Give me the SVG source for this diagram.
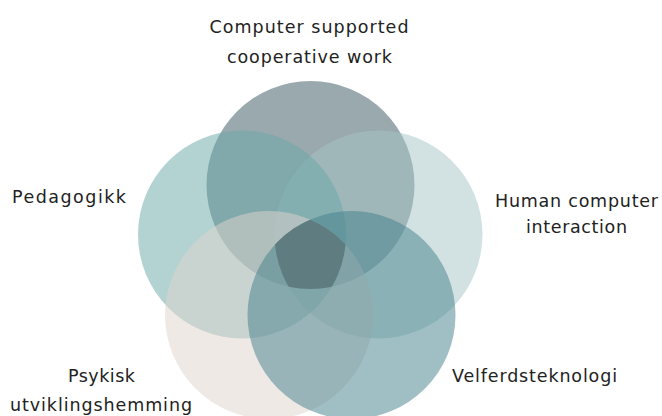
<svg xmlns="http://www.w3.org/2000/svg" width="662" height="416" viewBox="0 0 662 416">
<style>
.c{fill-opacity:.5}
.t{font-family:"DejaVu Sans","Open Sans",sans-serif;font-size:17.5px;font-weight:400;fill:#222}
</style>
<defs>
<clipPath id="cT"><circle cx="310.5" cy="185" r="104"/></clipPath>
<clipPath id="cL"><circle cx="242" cy="234.5" r="104"/></clipPath>
<clipPath id="cR"><circle cx="378.5" cy="234.5" r="104"/></clipPath>
<clipPath id="cBL"><circle cx="269" cy="315" r="104"/></clipPath>
</defs>
<rect width="662" height="416" fill="#fff"/>
<g id="cscw">
<circle class="c" cx="310.5" cy="185" r="104" fill="#35535d"/>
<text class="t" x="309" y="33" text-anchor="middle" textLength="199" lengthAdjust="spacing">Computer supported</text>
<text class="t" x="309.5" y="63" text-anchor="middle" textLength="165" lengthAdjust="spacing">cooperative work</text>
</g>
<g id="hci">
<circle class="c" cx="378.5" cy="234.5" r="104" fill="#a5c5c5"/>
<text class="t" x="576.5" y="207" text-anchor="middle" textLength="163" lengthAdjust="spacing">Human computer</text>
<text class="t" x="576.5" y="233" text-anchor="middle" textLength="101" lengthAdjust="spacing">interaction</text>
</g>
<g id="pedagogikk">
<circle class="c" cx="242" cy="234.5" r="104" fill="#67a7a7"/>
<text class="t" x="12" y="203" textLength="114" lengthAdjust="spacing">Pedagogikk</text>
</g>
<g id="psykisk">
<circle class="c" cx="269" cy="315" r="104" fill="#dfd3cd"/>
<text class="t" x="101.5" y="382" text-anchor="middle" textLength="67" lengthAdjust="spacing">Psykisk</text>
<text class="t" x="101" y="411" text-anchor="middle" textLength="182" lengthAdjust="spacing">utviklingshemming</text>
</g>
<g id="velferdsteknologi">
<circle class="c" cx="351.5" cy="315" r="104" fill="#417f89"/>
<text class="t" x="452" y="382" textLength="165" lengthAdjust="spacing">Velferdsteknologi</text>
</g>
<g id="center">
<g clip-path="url(#cT)"><g clip-path="url(#cL)"><g clip-path="url(#cR)"><g clip-path="url(#cBL)">
<circle cx="351.5" cy="315" r="104" fill="#5f7c80"/>
</g></g></g></g>
</g>
</svg>
